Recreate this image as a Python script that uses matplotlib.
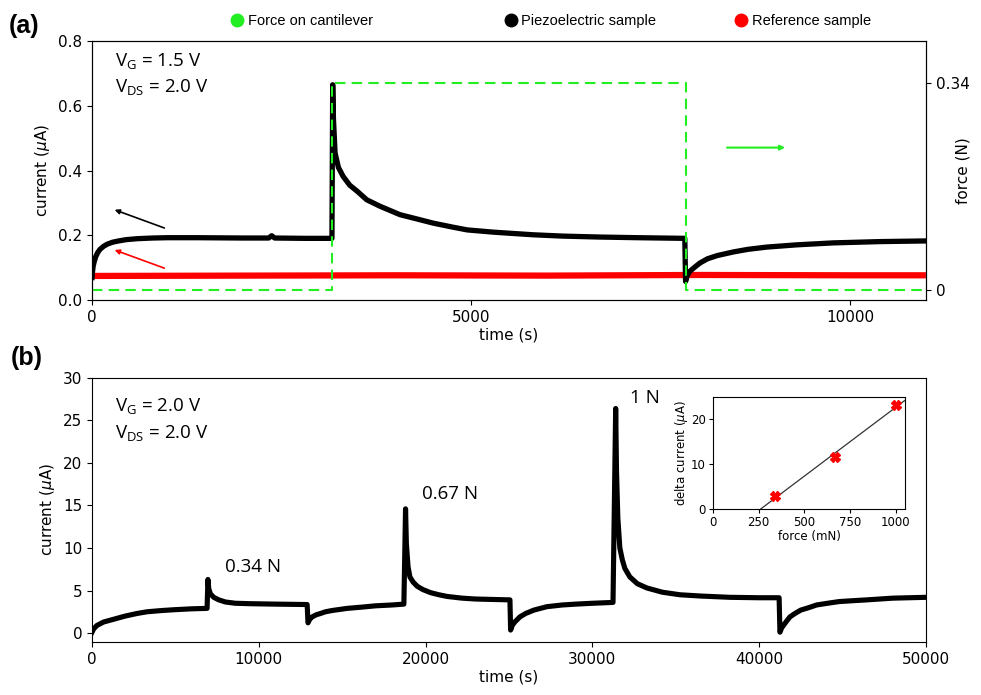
import numpy as np
import matplotlib
matplotlib.use("Agg")
import matplotlib.pyplot as plt
from matplotlib.lines import Line2D

# ---- panel (a): current at V_G = 1.5 V, single 0.34 N step ----
t_piezo_a = [0, 5, 15, 30, 50, 75, 105, 150, 200, 270, 350, 450, 600, 800, 1000, 1400,
             2000, 2330, 2370, 2410, 2800, 3165,
             3175, 3185, 3206, 3250, 3313, 3400, 3500, 3624, 3800, 4063, 4300, 4500,
             4750, 4950, 5300, 5820, 6200, 6700, 7200, 7820,
             7830, 7850, 7880, 7940, 8020, 8120, 8250, 8460, 8650, 8900, 9300, 9780,
             10400, 11000]
i_piezo_a = [0.070, 0.085, 0.105, 0.120, 0.135, 0.147, 0.157, 0.166, 0.173, 0.179, 0.183,
             0.187, 0.190, 0.192, 0.193, 0.193, 0.192, 0.192, 0.199, 0.192, 0.191, 0.191,
             0.665, 0.560, 0.455, 0.410, 0.382, 0.355, 0.336, 0.310, 0.290, 0.264, 0.250,
             0.238, 0.226, 0.217, 0.210, 0.202, 0.198, 0.195, 0.193, 0.191,
             0.058, 0.075, 0.088, 0.100, 0.115, 0.128, 0.138, 0.149, 0.157, 0.164, 0.171,
             0.177, 0.181, 0.183]
t_ref_a = [0, 2000, 4000, 6000, 8000, 10000, 11000]
i_ref_a = [0.075, 0.076, 0.077, 0.076, 0.078, 0.077, 0.077]
t_force_a = [0, 3170, 3170, 7830, 7830, 11000]
f_force_a = [0, 0, 0.34, 0.34, 0, 0]

# ---- panel (b): current at V_G = 2.0 V, three steps ----
t_b = [0, 100, 300, 700, 1260, 2000, 2700, 3300, 4200, 5000, 6000, 6900,
       6950, 7000, 7100, 7300, 7600, 8000, 8600, 9500, 11000, 12900,
       12950, 13050, 13200, 13450, 13700, 14000, 14400, 15300, 16200, 17000, 18000, 18700,
       18800, 18850, 18950, 19060, 19250, 19500, 19850, 20300, 20800, 21300, 22200, 23000,
       24000, 25060,
       25100, 25200, 25350, 25660, 26000, 26500, 27280, 28200, 29000, 30000, 31240,
       31400, 31450, 31530, 31650, 31800, 31950, 32250, 32700, 33270, 34200, 35250, 36500,
       38250, 40000, 41200,
       41250, 41350, 41500, 41650, 41850, 42150, 42500, 43000, 43450, 44100, 44800, 45600,
       46460, 48000, 50000]
i_b = [0.1, 0.5, 0.9, 1.3, 1.6, 2.0, 2.3, 2.5, 2.65, 2.75, 2.85, 2.9,
       6.3, 5.2, 4.6, 4.2, 3.9, 3.65, 3.5, 3.45, 3.4, 3.35,
       1.2, 1.6, 1.9, 2.15, 2.3, 2.5, 2.65, 2.9, 3.05, 3.2, 3.3, 3.4,
       14.6, 10.5, 7.8, 6.6, 6.0, 5.5, 5.1, 4.75, 4.5, 4.3, 4.1, 4.0,
       3.95, 3.9,
       0.35, 0.9, 1.3, 1.9, 2.3, 2.7, 3.1, 3.3, 3.4, 3.5, 3.6,
       26.4, 19.0, 13.5, 10.0, 8.6, 7.6, 6.6, 5.8, 5.3, 4.8, 4.5, 4.35,
       4.2, 4.15, 4.15,
       0.1, 0.6, 1.0, 1.4, 1.9, 2.3, 2.7, 3.0, 3.3, 3.5, 3.7, 3.8,
       3.9, 4.1, 4.2]
step_labels = ["0.34 N", "0.67 N", "1 N"]
step_label_t = [7974, 19784, 32254]
step_label_i = [7.2, 15.8, 27.1]

# inset: delta current vs force
force_mN = [339, 667, 1000]
delta_i = [2.9, 11.5, 23.2]

legend_labels = ["Force on cantilever", "Piezoelectric sample", "Reference sample"]
GREEN = "#22ee22"
legend_colors = [GREEN, "black", "red"]
ANN = ["Open Sans", "DejaVu Sans"]

fig = plt.figure(figsize=(9.81, 6.95), dpi=100)
plt.rcParams["font.size"] = 11

# ============ (a) ============
ax = fig.add_axes([0.0938, 0.568, 0.850, 0.373])
ax.plot(t_ref_a, i_ref_a, color="red", lw=4.5, solid_capstyle="butt")
ax.plot(t_piezo_a, i_piezo_a, color="black", lw=3.8)
ax.set_xlim(0, 11000)
ax.set_ylim(0, 0.8)
ax.set_yticks([0.0, 0.2, 0.4, 0.6, 0.8])
ax.set_xticks([0, 5000, 10000])
ax.set_xlabel("time (s)", fontsize=11, labelpad=2)
ax.set_ylabel(r"current ($\mu$A)", fontsize=11)
ax.tick_params(labelsize=11)

ax2 = ax.twinx()
ax2.plot(t_force_a, f_force_a, color=GREEN, lw=1.5, ls=(0, (5, 3)))
ax2.set_ylim(-0.0165, 0.409)
ax2.set_yticks([0, 0.34])
ax2.set_yticklabels(["0", "0.34"])
ax2.set_ylabel("force (N)", fontsize=11)
ax2.yaxis.set_label_coords(1.035, 0.5)
ax2.tick_params(labelsize=11)

ax.annotate("", xy=(264, 0.282), xytext=(989, 0.22),
            arrowprops=dict(arrowstyle="-|>", color="black", lw=1.2, mutation_scale=7))
ax.annotate("", xy=(264, 0.158), xytext=(989, 0.096),
            arrowprops=dict(arrowstyle="-|>", color="red", lw=1.2, mutation_scale=7))
ax.annotate("", xy=(9180, 0.471), xytext=(8340, 0.471),
            arrowprops=dict(arrowstyle="-|>", color=GREEN, lw=1.5, mutation_scale=7))

ax.text(0.028, 0.90, r"V$_\mathregular{G}$ = 1.5 V", transform=ax.transAxes,
        fontsize=13.5, family=ANN, va="baseline")
ax.text(0.028, 0.80, r"V$_\mathregular{DS}$ = 2.0 V", transform=ax.transAxes,
        fontsize=13.5, family=ANN, va="baseline")

# ============ (b) ============
bx = fig.add_axes([0.0938, 0.0763, 0.850, 0.380])
bx.plot(t_b, i_b, color="black", lw=3.7)
bx.set_xlim(0, 50000)
bx.set_ylim(-1.05, 30)
bx.set_yticks([0, 5, 10, 15, 20, 25, 30])
bx.set_xticks([0, 10000, 20000, 30000, 40000, 50000])
bx.set_xlabel("time (s)", fontsize=11, labelpad=2)
bx.set_ylabel(r"current ($\mu$A)", fontsize=11)
bx.tick_params(labelsize=11)
for lab, tx, ty in zip(step_labels, step_label_t, step_label_i):
    bx.text(tx, ty, lab, fontsize=13.5, family=ANN, va="baseline")
bx.text(0.028, 0.871, r"V$_\mathregular{G}$ = 2.0 V", transform=bx.transAxes,
        fontsize=13.5, family=ANN, va="baseline")
bx.text(0.028, 0.769, r"V$_\mathregular{DS}$ = 2.0 V", transform=bx.transAxes,
        fontsize=13.5, family=ANN, va="baseline")

# inset
ins = fig.add_axes([0.7268, 0.2676, 0.1957, 0.1612])
slope, icpt = np.polyfit(force_mN, delta_i, 1)
fx = np.array([-icpt / slope, 1050])
ins.plot(fx, slope * fx + icpt, color="#333333", lw=0.9)
ins.plot(force_mN, delta_i, ls="none", marker="X", color="red", ms=7)
ins.set_xlim(0, 1050)
ins.set_ylim(0, 25)
ins.set_xticks([0, 250, 500, 750, 1000])
ins.set_yticks([0, 10, 20])
ins.set_xlabel("force (mN)", fontsize=8.5, labelpad=1)
ins.set_ylabel(r"delta current ($\mu$A)", fontsize=8.5, labelpad=1)
ins.tick_params(labelsize=8.5, length=3, pad=2)

# legend at top, one entry per position
for lab, col, x0 in zip(legend_labels, legend_colors, [0.234, 0.513, 0.748]):
    h = Line2D([], [], ls="none", marker="o", ms=9, color=col)
    fig.legend([h], [lab], loc="center left", bbox_to_anchor=(x0, 0.970),
               frameon=False, borderpad=0, borderaxespad=0, handletextpad=0.25,
               handlelength=1.0, prop=dict(family="Liberation Sans", size=10.5))

fig.text(0.009, 0.963, "(a)", fontsize=18, fontweight="bold",
         family="Liberation Sans", va="center")
fig.text(0.011, 0.485, "(b)", fontsize=18, fontweight="bold",
         family="Liberation Sans", va="center")

fig.savefig("out.png", dpi=100)
